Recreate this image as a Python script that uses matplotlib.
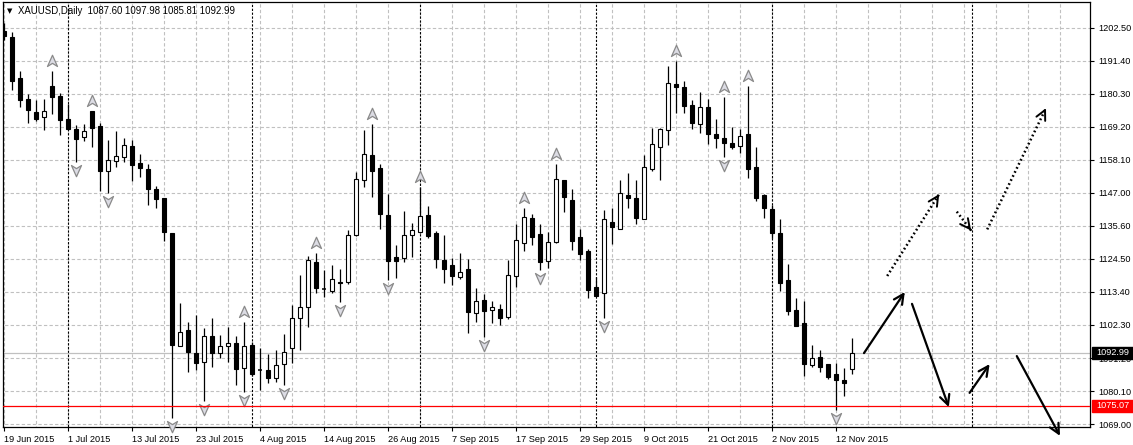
# -*- coding: utf-8 -*-
"""
XAUUSD Daily: свечной график в стиле MT4 + фракталы и разметка-прогноз стрелками.
"""

import matplotlib
matplotlib.use("Agg")
import matplotlib.pyplot as plt
import matplotlib.transforms as mtransforms
from matplotlib.path import Path
from matplotlib.patches import Rectangle

plt.rcParams["font.family"] = ["Liberation Sans", "DejaVu Sans"]

# ------------------- ДАННЫЕ -------------------
# бар 0 = 19 Jun 2015, последний бар = 16 Nov 2015
opens = [1201.5, 1199.4, 1185.5, 1178.5, 1174.3, 1172.6, 1183.0, 1179.6, 1171.8, 1168.5,
         1165.9, 1174.5, 1169.5, 1154.4, 1157.8, 1159.1, 1162.7, 1157.1, 1155.0, 1148.2,
         1145.1, 1133.3, 1095.4, 1100.7, 1092.8, 1090.0, 1098.7, 1093.0, 1095.3, 1096.2,
         1087.8, 1095.6, 1087.1, 1087.2, 1084.4, 1089.1, 1094.5, 1104.6, 1108.3, 1123.5,
         1114.4, 1113.9, 1117.0, 1116.8, 1132.7, 1151.3, 1159.6, 1155.2, 1139.5, 1125.2,
         1124.9, 1132.6, 1133.8, 1139.5, 1133.5, 1124.3, 1122.6, 1118.7, 1121.3, 1106.3,
         1110.8, 1107.4, 1107.8, 1105.0, 1119.0, 1129.9, 1138.3, 1133.1, 1124.0, 1130.3,
         1151.3, 1144.5, 1131.9, 1127.3, 1115.1, 1113.1, 1137.0, 1134.6, 1146.2, 1145.1,
         1138.0, 1154.9, 1162.5, 1168.1, 1183.6, 1182.5, 1176.5, 1170.0, 1175.8, 1166.7,
         1165.3, 1163.6, 1162.7, 1166.7, 1155.5, 1146.2, 1141.4, 1133.3, 1117.5, 1107.4,
         1103.0, 1088.9, 1091.5, 1089.2, 1085.9, 1083.8, 1087.60]
highs = [1204.2, 1201.0, 1188.0, 1180.1, 1178.2, 1178.6, 1188.0, 1180.5, 1176.8, 1169.8,
         1170.0, 1174.6, 1170.4, 1164.7, 1167.8, 1165.5, 1164.7, 1160.0, 1156.7, 1149.2,
         1145.3, 1133.3, 1109.7, 1103.5, 1105.7, 1101.3, 1104.6, 1099.0, 1101.8, 1098.7,
         1103.5, 1096.7, 1094.5, 1092.5, 1094.0, 1099.2, 1109.1, 1119.2, 1125.7, 1126.7,
         1120.9, 1122.6, 1121.3, 1134.4, 1154.1, 1168.1, 1170.1, 1156.5, 1146.5, 1129.3,
         1140.8, 1136.9, 1149.0, 1142.6, 1134.1, 1132.7, 1124.9, 1126.7, 1124.5, 1114.7,
         1112.7, 1110.6, 1109.5, 1124.3, 1136.4, 1141.7, 1139.8, 1136.4, 1133.8, 1156.5,
         1151.3, 1148.1, 1134.6, 1128.0, 1118.7, 1141.1, 1141.9, 1151.3, 1153.5, 1151.3,
         1159.7, 1168.9, 1168.7, 1189.7, 1191.4, 1184.6, 1178.2, 1180.8, 1178.6, 1171.8,
         1179.1, 1169.2, 1168.5, 1183.0, 1162.5, 1146.5, 1142.8, 1138.1, 1122.9, 1111.4,
         1110.6, 1095.6, 1094.0, 1089.2, 1089.7, 1088.0, 1097.98]
lows = [1198.5, 1181.6, 1176.0, 1170.6, 1171.1, 1168.1, 1173.5, 1166.4, 1168.1, 1157.2,
        1164.4, 1162.5, 1147.6, 1146.8, 1155.7, 1157.4, 1151.0, 1152.4, 1142.8, 1141.9,
        1130.8, 1071.1, 1095.4, 1086.6, 1087.2, 1076.8, 1088.1, 1091.4, 1090.0, 1082.1,
        1079.9, 1085.2, 1080.5, 1082.7, 1083.3, 1082.1, 1089.5, 1094.0, 1101.8, 1113.3,
        1111.7, 1113.3, 1110.0, 1116.1, 1132.5, 1148.8, 1145.4, 1134.6, 1117.5, 1118.1,
        1123.5, 1125.4, 1133.5, 1131.8, 1121.7, 1116.4, 1115.9, 1117.8, 1099.8, 1103.5,
        1098.2, 1103.2, 1102.4, 1104.3, 1115.1, 1127.4, 1129.3, 1120.9, 1121.7, 1130.0,
        1140.6, 1127.7, 1124.3, 1111.4, 1112.3, 1104.6, 1129.7, 1134.6, 1141.7, 1136.4,
        1138.0, 1154.4, 1151.3, 1163.1, 1173.9, 1173.9, 1168.4, 1167.0, 1163.3, 1162.1,
        1158.9, 1161.7, 1160.5, 1152.0, 1144.2, 1138.5, 1131.6, 1113.9, 1105.7, 1102.1,
        1085.3, 1088.1, 1086.6, 1084.1, 1073.7, 1078.5, 1085.81]
closes = [1199.8, 1184.7, 1178.2, 1174.9, 1171.8, 1174.6, 1179.3, 1171.5, 1168.4, 1165.1,
          1167.8, 1168.9, 1154.4, 1158.0, 1159.2, 1163.1, 1156.3, 1155.4, 1148.1, 1144.8,
          1133.8, 1095.6, 1099.9, 1093.4, 1089.7, 1098.7, 1093.0, 1095.3, 1096.2, 1087.4,
          1095.3, 1085.9, 1087.1, 1084.4, 1088.9, 1093.4, 1104.6, 1108.3, 1124.3, 1114.7,
          1114.4, 1117.8, 1116.4, 1132.7, 1151.5, 1159.9, 1154.3, 1139.7, 1124.0, 1124.0,
          1132.6, 1134.3, 1139.1, 1132.5, 1124.5, 1121.4, 1118.9, 1120.1, 1106.9, 1110.5,
          1107.2, 1108.3, 1104.6, 1119.2, 1131.0, 1138.9, 1131.9, 1123.5, 1130.3, 1151.5,
          1145.6, 1130.8, 1126.2, 1114.2, 1112.3, 1138.0, 1135.3, 1146.8, 1145.1, 1138.5,
          1155.7, 1163.3, 1168.4, 1183.9, 1182.5, 1176.3, 1170.4, 1175.8, 1166.7, 1165.3,
          1163.8, 1162.5, 1166.2, 1154.9, 1145.3, 1141.7, 1133.3, 1116.4, 1107.2, 1102.1,
          1089.1, 1091.1, 1088.1, 1084.9, 1083.8, 1082.9, 1092.99]

# фракталы Билла Вильямса (индексы баров)
up_fractals = [6, 11, 30, 39, 46, 52, 65, 69, 84, 90, 93]
down_fractals = [9, 13, 21, 25, 30, 35, 42, 48, 60, 67, 75, 90, 104]

# подписи оси времени (каждые 8 баров)
date_ticks = [0, 8, 16, 24, 32, 40, 48, 56, 64, 72, 80, 88, 96, 104]
date_labels = ["19 Jun 2015", "1 Jul 2015", "13 Jul 2015", "23 Jul 2015", "4 Aug 2015",
               "14 Aug 2015", "26 Aug 2015", "7 Sep 2015", "17 Sep 2015", "29 Sep 2015",
               "9 Oct 2015", "21 Oct 2015", "2 Nov 2015", "12 Nov 2015"]
separators = [8, 31, 52, 74, 96, 121]   # разделители месяцев

price_labels = ["1069.00", "1080.10", "1091.20", "1102.30", "1113.40", "1124.50", "1135.60",
                "1147.00", "1158.10", "1169.20", "1180.30", "1191.40", "1202.50"]

bid_price = 1092.99
level_price = 1075.07

# стрелки-прогноз (бар, цена)
solid_x0 = [107.5, 113.5, 120.7, 126.6]
solid_y0 = [1092.9, 1109.5, 1079.5, 1091.9]
solid_x1 = [112.6, 118.1, 123.2, 132.0]
solid_y1 = [1113.5, 1074.7, 1089.2, 1065.0]
dot_x0 = [110.4, 119.1, 122.9]
dot_y0 = [1118.9, 1140.6, 1134.6]
dot_x1 = [116.9, 120.9, 130.25]
dot_y1 = [1146.5, 1134.2, 1175.5]

# ------------------- ГРАФИК -------------------
W, H = 1133, 445
fig = plt.figure(figsize=(W / 100, H / 100), dpi=100)
ax = fig.add_axes([3 / W, 18 / H, 1087 / W, 425 / H])
ax.set_xlim(-0.125, 135.75)
ax.set_ylim(1067.99, 1211.26)

# сетка
p_lo, p_hi = float(price_labels[0]), float(price_labels[-1])
n = len(price_labels)
price_ticks = [p_lo + k * (p_hi - p_lo) / (n - 1) for k in range(n)]
ax.hlines(price_ticks, -1, 140, colors="#c0c0c0", linestyles=(0, (3, 2)), lw=0.8, zorder=0)
ax.vlines(range(0, 136, 4), 1000, 1300, colors="#c0c0c0", linestyles=(0, (3, 2)), lw=0.8, zorder=0)
ax.vlines(separators, 1000, 1300, colors="black", linestyles=(0, (2, 1.5)), lw=0.8, zorder=1)

# уровни
ax.axhline(bid_price, color="#c0c0c0", lw=0.9, zorder=1)
ax.axhline(level_price, color="red", lw=0.9, zorder=5)

# свечи
xs = list(range(len(opens)))
ax.vlines(xs, lows, highs, colors="black", lw=0.9, zorder=2)
for i in xs:
    o, c = opens[i], closes[i]
    bottom = min(o, c)
    height = abs(c - o)
    fc = "white" if c > o else "black"
    if height < 0.3:
        ax.hlines(o, i - 0.3, i + 0.3, colors="black", lw=1.1, zorder=3)
    else:
        ax.add_patch(Rectangle((i - 0.25, bottom), 0.5, height, facecolor=fc,
                               edgecolor="black", lw=0.8, zorder=3))

# фракталы
up_marker = Path([(0, 1), (0.8, -0.8), (0, -0.3), (-0.8, -0.8), (0, 1)],
                 [Path.MOVETO, Path.LINETO, Path.LINETO, Path.LINETO, Path.CLOSEPOLY])
down_marker = Path([(0, -1), (0.8, 0.8), (0, 0.3), (-0.8, 0.8), (0, -1)],
                   [Path.MOVETO, Path.LINETO, Path.LINETO, Path.LINETO, Path.CLOSEPOLY])
tr_up = mtransforms.offset_copy(ax.transData, fig=fig, y=10, units="dots")
tr_dn = mtransforms.offset_copy(ax.transData, fig=fig, y=-8, units="dots")
ax.plot(up_fractals, [highs[i] for i in up_fractals], ls="none", marker=up_marker, ms=9,
        mfc="#dcdce4", mec="#8a8a8a", mew=0.9, transform=tr_up, zorder=4, clip_on=False)
ax.plot(down_fractals, [lows[i] for i in down_fractals], ls="none", marker=down_marker, ms=9,
        mfc="#dcdce4", mec="#8a8a8a", mew=0.9, transform=tr_dn, zorder=4, clip_on=False)

# стрелки
for x0, y0, x1, y1 in zip(solid_x0, solid_y0, solid_x1, solid_y1):
    ax.annotate("", xy=(x1, y1), xytext=(x0, y0), annotation_clip=False,
                arrowprops=dict(arrowstyle="->,head_length=0.7,head_width=0.35",
                                color="black", lw=1.6, shrinkA=0, shrinkB=0), zorder=6)
for x0, y0, x1, y1 in zip(dot_x0, dot_y0, dot_x1, dot_y1):
    ax.plot([x0, x1], [y0, y1], color="black", lw=1.8, ls=(0, (0.7, 1.1)), zorder=6)
    xa = x1 - (x1 - x0) * 0.03
    ya = y1 - (y1 - y0) * 0.03
    ax.annotate("", xy=(x1, y1), xytext=(xa, ya), annotation_clip=False,
                arrowprops=dict(arrowstyle="->,head_length=0.7,head_width=0.35",
                                color="black", lw=1.4, shrinkA=0, shrinkB=0), zorder=6)

# оси
for s in ax.spines.values():
    s.set_color("black")
    s.set_linewidth(0.9)
ax.yaxis.tick_right()
ax.set_yticks(price_ticks, price_labels)
ax.set_xticks(date_ticks, date_labels)
ax.tick_params(axis="y", direction="out", length=3, width=0.8, pad=3, labelsize=6.6)
ax.tick_params(axis="x", direction="out", length=3, width=0.8, pad=3, labelsize=6.6)
for lbl in ax.get_xticklabels():
    lbl.set_ha("left")

# плашки цены справа (как в MT4, плашка текущей цены частично закрывает 1091.20)
for price, col in [(bid_price, "black"), (level_price, "red")]:
    yf = ax.transData.transform((0, price))[1] / H
    fig.patches.append(Rectangle((1092 / W, yf - 6 / H), 41 / W, 12 / H, facecolor=col,
                                 edgecolor=col, transform=fig.transFigure, zorder=10))
    fig.text(1096 / W, yf, f"{price:.2f}", color="white", fontsize=6.6, va="center",
             ha="left", zorder=11)

# заголовок
fig.text(7 / W, 1 - 11 / H, "▼", fontsize=5, va="center", family="DejaVu Sans")
fig.text(18 / W, 1 - 11 / H, "XAUUSD,Daily  1087.60 1097.98 1085.81 1092.99",
         fontsize=6.9, va="center")

fig.savefig("out.png", dpi=100)
